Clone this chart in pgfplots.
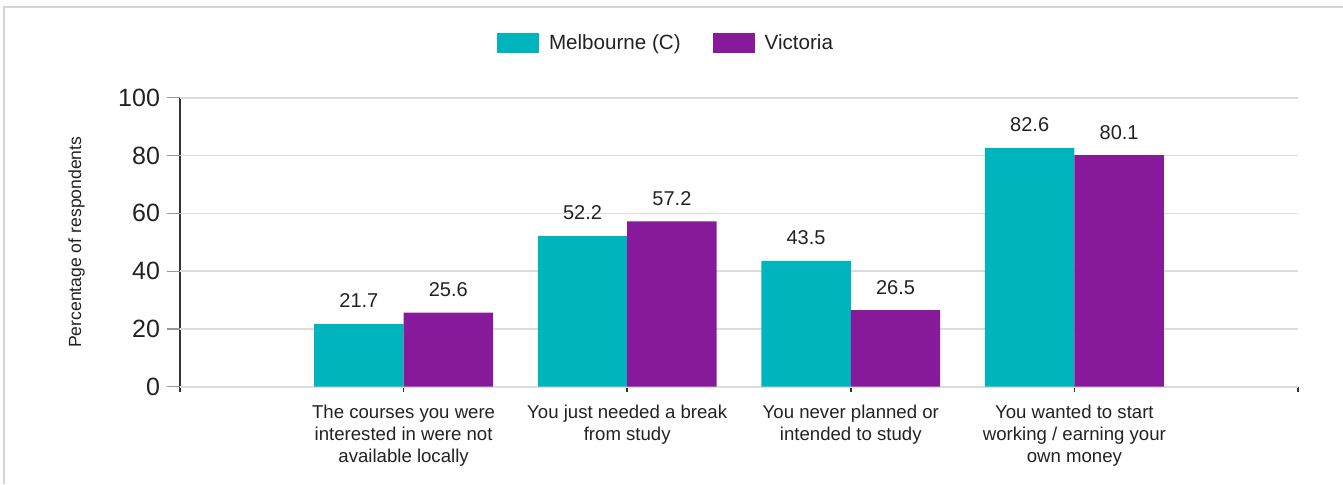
\documentclass[border=0pt]{standalone}
\usepackage{pgfplots}
\pgfplotsset{compat=1.18}
\usepackage{fontspec}
\setmainfont{Liberation Sans}
\definecolor{mteal}{HTML}{00B4BE}
\definecolor{vpurple}{HTML}{87199B}
\definecolor{gridc}{HTML}{DCDCDC}
\definecolor{axc}{HTML}{333333}
\definecolor{txt}{HTML}{222222}
\definecolor{framec}{HTML}{D4D4D4}
\definecolor{ytc}{HTML}{999999}
\begin{document}
\begin{tikzpicture}
\useasboundingbox (0,0) rectangle (671.5pt,242pt);
\draw[framec, line width=1.2pt] (2pt,0) -- (2pt,238.5pt) -- (671.5pt,238.5pt);
\begin{axis}[
  at={(90pt,48.65pt)}, anchor=south west,
  scale only axis, width=559pt, height=144.5pt,
  xmin=0, xmax=5, ymin=0, ymax=100,
  axis x line*=bottom, axis y line*=left,
  axis line style={-, draw=axc, line width=1pt},
  /pgf/number format/assume math mode=true,
  ytick=\empty,
  extra y ticks={0,20,40,60,80,100},
  extra y tick style={major tick length=6.5pt, tick align=outside, grid=major,
    tick style={draw=ytc, line width=0.6pt}},
  extra y tick labels={0,20,40,60,80,100},
  ymajorgrids, grid style={draw=gridc, line width=0.8pt},
  tick align=outside,
  major tick length=2.5pt,
  xtick style={draw=axc, line width=0.8pt},
  yticklabel style={font=\fontsize{12.5}{14}\selectfont, text=txt},
  xtick={0,1,2,3,4,5},
  xticklabels={,{The courses you were\\interested in were not\\available locally},{You just needed a break\\from study},{You never planned or\\intended to study},{You wanted to start\\working / earning your\\own money},},
  xticklabel style={align=center, font=\fontsize{9.3}{11}\selectfont, text=txt, yshift=-3pt},
  ylabel={Percentage of respondents},
  ylabel style={at={(axis description cs:-0.0925,0.5)}, anchor=center, font=\fontsize{8.8}{10}\selectfont, text=txt},
  ybar, bar width=0.4,
  nodes near coords,
  nodes near coords style={font=\fontsize{10}{12}\selectfont, text=txt, anchor=base, yshift=8pt,
    /pgf/number format/.cd, fixed, precision=1, fixed zerofill},
  legend columns=2,
  legend style={at={(0.4356,1.189)}, anchor=center, draw=none, fill=none,
    font=\fontsize{10.3}{12}\selectfont, text=txt,
    /tikz/every even column/.append style={column sep=14pt}},
  legend image code/.code={\fill[#1] (0pt,-5pt) rectangle (21pt,5pt); \path (24pt,0pt);},
]
\addplot[fill=mteal, draw=none, bar shift=-0.2] coordinates {(1,21.7) (2,52.2) (3,43.5) (4,82.6)};
\addlegendentry{Melbourne (C)}
\addplot[fill=vpurple, draw=none, bar shift=0.2] coordinates {(1,25.6) (2,57.2) (3,26.5) (4,80.1)};
\addlegendentry{Victoria}
\end{axis}
\end{tikzpicture}
\end{document}
